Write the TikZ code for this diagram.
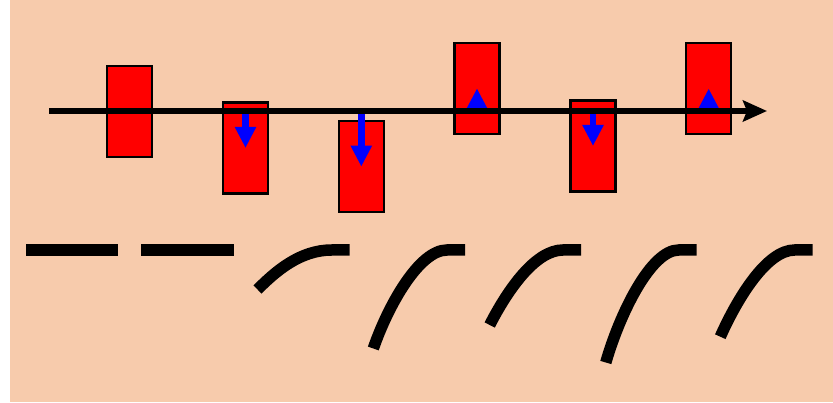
\documentclass[tikz,border=0pt]{standalone}
\usetikzlibrary{arrows.meta}
\definecolor{peach}{RGB}{247,203,172}
\definecolor{barred}{RGB}{255,0,0}
\definecolor{pushblue}{RGB}{0,0,255}
\begin{document}
\begin{tikzpicture}[x=1pt,y=-1pt,
  bar/.style={draw=black,line width=2.2pt,fill=barred,rectangle,inner sep=0pt,
              minimum width=45pt,minimum height=91pt},
  axisline/.style={line width=6.5pt,-{Stealth[length=24pt,width=21pt,inset=4pt]}},
  push/.style={draw=pushblue,line width=6.5pt,-{Triangle[length=21pt,width=20pt]}},
  rod/.style={line width=11.5pt,line cap=butt}]
\useasboundingbox (0,0) rectangle (833,403);
\fill[white] (0,0) rectangle (833,403);
\fill[peach] (10,0.5) rectangle (833,402);

% bars along the axis
\node[bar] (r1) at (129.5,111.5) {};
\node[bar] (r2) at (245.5,148) {};
\node[bar] (r3) at (361.3,166.7) {};
\node[bar] (r4) at (477,88.3) {};
\node[bar] (r5) at (593,146) {};
\node[bar] (r6) at (708.7,88.5) {};

% axis end points
\coordinate (a0) at (49,111);
\coordinate (a1) at (767,111);

% displacement arrows from the axis to each bar centre
\foreach \r in {r2,r3,r4,r5,r6}
  \draw[push] (\r.center |- a0) -- (\r.center);

% the axis
\draw[axisline] (a0) -- (a1);

% straight rods
\coordinate (l1a) at (26,250);   \coordinate (l1b) at (118,250);
\coordinate (l2a) at (141.3,250);\coordinate (l2b) at (234,250);
\draw[rod] (l1a) -- (l1b);
\draw[rod] (l2a) -- (l2b);

% bent rods
\coordinate (c3r) at (349.7,250); \coordinate (c3e) at (257.5,289.5);
\coordinate (c4r) at (465,250);   \coordinate (c4e) at (373.3,348.5);
\coordinate (c5r) at (581,250);   \coordinate (c5e) at (489.7,325);
\coordinate (c6r) at (696.7,250); \coordinate (c6e) at (605.8,362.5);
\coordinate (c7r) at (812.7,250); \coordinate (c7e) at (720.3,336.7);

\draw[rod] (c3r) -- (331.7,250) .. controls (299.7,250) and (275.2,271.8) .. (c3e);
\draw[rod] (c4r) -- (447,250) .. controls (419,250) and (388,305.9) .. (c4e);
\draw[rod] (c5r) -- (563,250) .. controls (535,250) and (507,291.1) .. (c5e);
\draw[rod] (c6r) -- (678.7,250) .. controls (650.7,250) and (619.6,314.4) .. (c6e);
\draw[rod] (c7r) -- (794.7,250) .. controls (766.7,250) and (737.4,298.3) .. (c7e);
\end{tikzpicture}
\end{document}
